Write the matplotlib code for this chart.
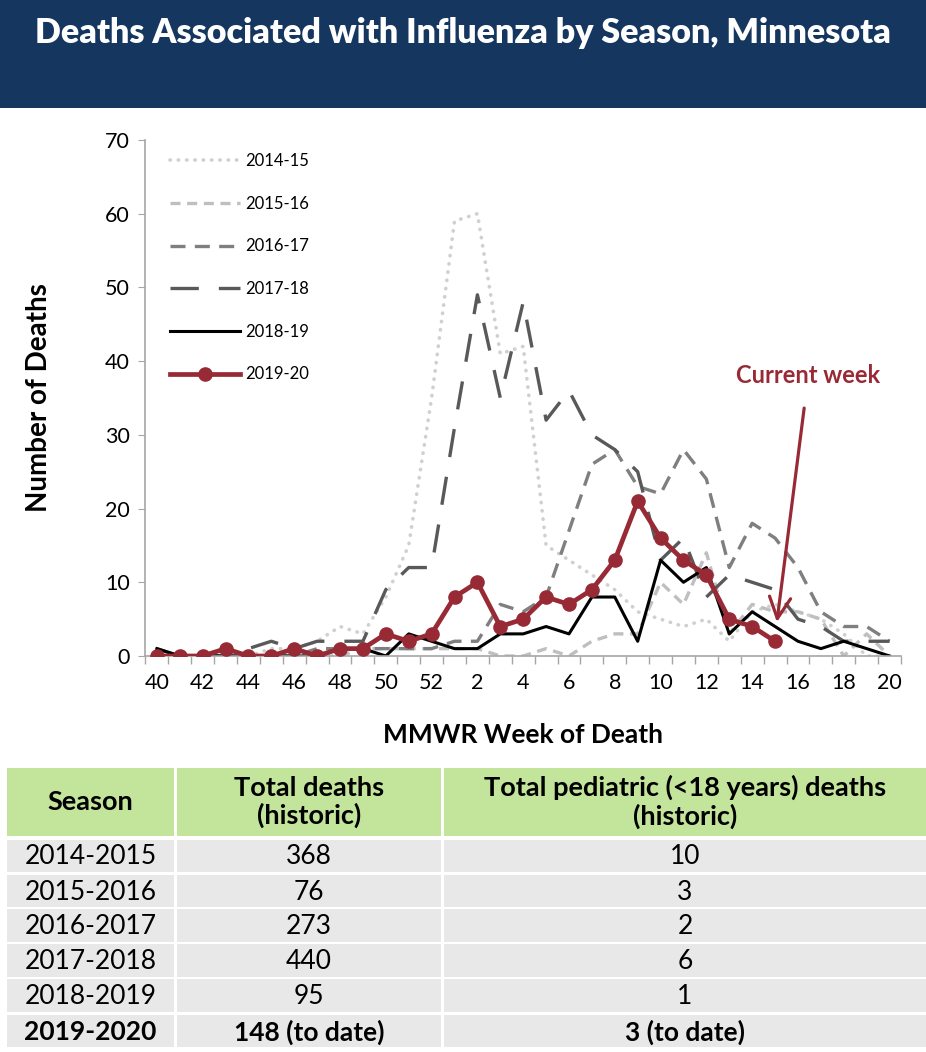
import matplotlib
matplotlib.use("Agg")
import matplotlib.pyplot as plt
from matplotlib.patches import Rectangle

plt.rcParams['font.family'] = ['Lato', 'DejaVu Sans']

# MMWR weeks 40..52, then 1..20
weeks = list(range(40, 53)) + list(range(1, 21))

s1415 = [0, 0, 0, 0, 0, 1, 1, 2, 4, 3, 8, 15, 35,
         59, 60, 41, 42, 15, 13, 11, 9, 6, 5, 4, 5, 2, 6, 7, 6, 5, 3, 0, 0]
s1516 = [0, 0, 0, 0, 0, 0, 0, 0, 0, 1, 1, 1, 1,
         1, 1, 0, 0, 1, 0, 2, 3, 3, 10, 7, 14, 3, 7, 6, 6, 5, 0, 3, 0]
s1617 = [0, 0, 0, 0, 0, 0, 0, 1, 1, 1, 1, 1, 1,
         2, 2, 7, 6, 8, 17, 26, 28, 23, 22, 28, 24, 12, 18, 16, 12, 6, 4, 4, 2]
s1718 = [1, 0, 0, 0, 1, 2, 1, 2, 2, 2, 9, 12, 12,
         31, 49, 35, 48, 32, 36, 30, 28, 25, 13, 16, 8, 11, 10, 9, 5, 4, 2, 2, 2]
s1819 = [1, 0, 0, 0, 0, 0, 0, 0, 1, 1, 0, 3, 2,
         1, 1, 3, 3, 4, 3, 8, 8, 2, 13, 10, 12, 3, 6, 4, 2, 1, 2, 1, 0]
s1920 = [0, 0, 0, 1, 0, 0, 1, 0, 1, 1, 3, 2, 3,
         8, 10, 4, 5, 8, 7, 9, 13, 21, 16, 13, 11, 5, 4, 2]

season_labels = ['2014-15', '2015-16', '2016-17', '2017-18', '2018-19', '2019-20']

# summary table
tbl_header = ['Season', 'Total deaths\n(historic)', 'Total pediatric (<18 years) deaths\n(historic)']
tbl_season = ['2014-2015', '2015-2016', '2016-2017', '2017-2018', '2018-2019', '2019-2020']
tbl_total = ['368', '76', '273', '440', '95', '148 (to date)']
tbl_pediatric = ['10', '3', '2', '6', '1', '3 (to date)']

RED = '#982a35'
NAVY = '#15375f'

W, H = 926, 1052
fig = plt.figure(figsize=(W / 100, H / 100), dpi=100)

# title banner
fig.patches.append(Rectangle((0, 1 - 108 / H), 1, 108 / H, transform=fig.transFigure,
                             facecolor=NAVY, edgecolor='none', zorder=0))
fig.text(0.5, 1 - 33 / H, 'Deaths Associated with Influenza by Season, Minnesota',
         color='white', fontsize=24.5, fontweight='heavy', ha='center', va='center')

# chart
ax = fig.add_axes([145.4 / W, (H - 656) / H, 755.6 / W, 516 / H])
x = list(range(len(weeks)))

ax.plot(x, s1415, color='#d0d0d0', lw=2.6, dashes=(0.1, 2.2), dash_capstyle='round',
        label=season_labels[0])
ax.plot(x, s1516, color='#bfbfbf', lw=2.4, dashes=(3, 2), label=season_labels[1])
ax.plot(x, s1617, color='#7f7f7f', lw=2.4, dashes=(4.5, 2.8), label=season_labels[2])
ax.plot(x, s1718, color='#595959', lw=2.4, dashes=(8.5, 6), label=season_labels[3])
ax.plot(x, s1819, color='black', lw=2.2, label=season_labels[4])
ax.plot(range(len(s1920)), s1920, color=RED, lw=3.4, marker='o', markersize=9.5,
        label=season_labels[5], zorder=5)

ax.set_xlim(-0.5, len(weeks) - 0.5)
ax.set_ylim(0, 70)
ax.set_yticks(range(0, 71, 10))
ax.set_xticks(x[::2])
ax.set_xticklabels([str(w) for w in weeks[::2]])
ax.set_xticks([i - 0.5 for i in range(len(weeks) + 1)], minor=True)
ax.tick_params(axis='x', which='major', length=0, labelsize=15.5, pad=12)
ax.tick_params(axis='x', which='minor', length=6, color='#a6a6a6', width=1)
ax.tick_params(axis='y', length=5, color='#a6a6a6', labelsize=15.5, pad=6)

for side in ['top', 'right']:
    ax.spines[side].set_visible(False)
for side in ['left', 'bottom']:
    ax.spines[side].set_color('#a6a6a6')
    ax.spines[side].set_linewidth(1.2)

ax.set_ylabel('Number of Deaths', fontsize=20, fontweight='bold', labelpad=38)
ax.set_xlabel('MMWR Week of Death', fontsize=19, fontweight='bold', labelpad=22)

ax.legend(loc='upper left', bbox_to_anchor=((170 - 145.4) / 755.6, (656 - 153) / 516),
          frameon=False, fontsize=12, handlelength=4.2, handletextpad=0.3,
          labelspacing=1.6, borderaxespad=0, borderpad=0)

# current week arrow, tip just above the latest point
last = len(s1920) - 1
ax.annotate('Current week', xy=(last + 0.08, s1920[last] + 2.6), xytext=(last + 1.45, 38),
            color=RED, fontsize=17, fontweight='bold', ha='center', va='center', zorder=6,
            arrowprops=dict(arrowstyle='->,head_length=0.9,head_width=0.45', color=RED,
                            lw=2.3, shrinkA=13, shrinkB=0, mutation_scale=17))

# summary table, drawn in pixel coordinates
tax = fig.add_axes([0, 0, 1, (H - 740) / H])
tax.set_xlim(0, W)
tax.set_ylim(H, 740)
tax.axis('off')

cols = [(7, 174), (177, 441), (444, 926)]
head_row = (768, 836)
rows = [(840, 872), (875, 907), (909, 942), (944, 977), (979, 1012), (1015, 1047)]

for (x0, x1), txt in zip(cols, tbl_header):
    tax.add_patch(Rectangle((x0, head_row[0]), x1 - x0, head_row[1] - head_row[0],
                            facecolor='#c3e59b', edgecolor='none'))
    tax.text((x0 + x1) / 2, (head_row[0] + head_row[1]) / 2, txt, ha='center', va='center',
             fontsize=19.5, fontweight='bold', linespacing=1.15)

for r, (y0, y1) in enumerate(rows):
    bold = r == len(rows) - 1
    cells = [tbl_season[r], tbl_total[r], tbl_pediatric[r]]
    for (x0, x1), txt in zip(cols, cells):
        tax.add_patch(Rectangle((x0, y0), x1 - x0, y1 - y0,
                                facecolor='#e8e8e8', edgecolor='none'))
        tax.text((x0 + x1) / 2, (y0 + y1) / 2 + 1, txt, ha='center', va='center',
                 fontsize=19, fontweight='bold' if bold else 'normal')

fig.savefig('out.png', dpi=100)
